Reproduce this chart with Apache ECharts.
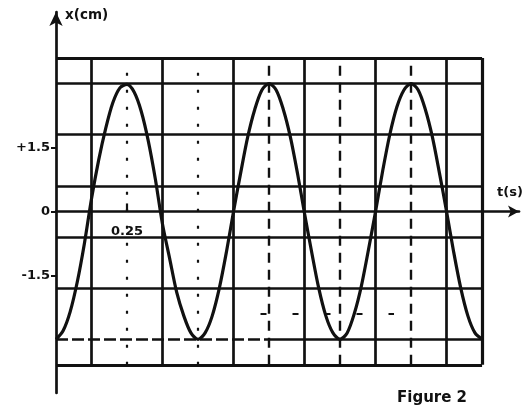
<!DOCTYPE html>
<html>
<head>
<meta charset="utf-8">
<script src="https://cdn.jsdelivr.net/npm/echarts@6/dist/echarts.min.js"></script>
<style>html,body{margin:0;padding:0;background:#fff;}#c{width:529px;height:408px;}</style>
</head>
<body>
<div id="c"></div>
<script>
// time (s)
const times = [0,0.025,0.05,0.075,0.1,0.125,0.15,0.175,0.2,0.225,0.25,0.275,0.3,0.325,0.35,0.375,0.4,0.425,0.45,0.475,0.5,0.525,0.55,0.575,0.6,0.625,0.65,0.675,0.7,0.725,0.75,0.775,0.8,0.825,0.85,0.875,0.9,0.925,0.95,0.975,1.0,1.025,1.05,1.075,1.1,1.125,1.15,1.175,1.2,1.225,1.25,1.275,1.3,1.325,1.35,1.375,1.4,1.425,1.45,1.475,1.5];
// x (cm)
const positions = [-3.0,-2.8,-2.35,-1.65,-0.75,0.3,1.2,1.95,2.55,2.9,2.98,2.8,2.35,1.65,0.75,-0.3,-1.1,-1.9,-2.45,-2.85,-3.0,-2.85,-2.45,-1.8,-0.95,0.0,0.9,1.75,2.4,2.85,3.0,2.85,2.4,1.75,0.9,-0.05,-0.95,-1.8,-2.45,-2.85,-3.0,-2.85,-2.4,-1.75,-0.9,0.0,0.95,1.8,2.45,2.85,3.0,2.85,2.4,1.75,0.9,0.0,-0.95,-1.8,-2.45,-2.85,-3.0];
// tick labels
const yTickValues = [-1.5, 0, 1.5];
const xTickValues = [0.25];
// paper grid
const gridRows = [3, 1.8, 0.6, -0.6, -1.8];
const boxRows = [3.6, -3.6];
const solidCols = [0.125, 0.375, 0.625, 0.875, 1.125, 1.375, 1.5];
const dottedCols = [0.25, 0.5];
const dashedCols = [0.75, 1.0, 1.25];
const tEnd = 1.5;
const boxTop = 3.6, boxBottom = -3.6;
const yMin = -4.26, yMax = 4.68;

const font = 'DejaVu Sans';
const ink = '#111';

const ml = [];
function hLine(v, x0, x1, w, type) {
  ml.push([{coord:[x0, v], lineStyle:{color:ink, width:w, type:type}}, {coord:[x1, v]}]);
}
function vLine(t, w, type) {
  ml.push([{coord:[t, boxBottom], lineStyle:{color:ink, width:w, type:type}}, {coord:[t, boxTop]}]);
}
gridRows.forEach(v => hLine(v, 0, tEnd, 2.7, 'solid'));
hLine(-3, 0, 0.75, 2.7, [12, 4]);
hLine(-3, 0.75, tEnd, 2.7, 'solid');
hLine(-2.4, 0.72, 1.19, 2.2, [6, 26]);
boxRows.forEach(v => hLine(v, 0, tEnd, 3.2, 'solid'));
solidCols.forEach(t => vLine(t, t === tEnd ? 3.2 : 2.7, 'solid'));
dottedCols.forEach(t => vLine(t, 2.2, [3, 14]));
dashedCols.forEach(t => vLine(t, 2.4, [10, 7]));

const gridTop = 12, gridBottom = 15, chartH = 408;
const plotH = chartH - gridTop - gridBottom;
// shift x-axis from the bottom of the grid up to the zero line
const zeroOffset = -plotH * (0 - yMin) / (yMax - yMin);

const chart = echarts.init(document.getElementById('c'), null, {renderer:'canvas'});
chart.setOption({
  animation: false,
  backgroundColor: '#fff',
  title: {
    text: 'Figure 2', left: 392, top: 386,
    textStyle: {fontFamily: font, fontWeight: 'bold', fontSize: 15, color: ink}
  },
  grid: {left: 56, right: 10, top: gridTop, bottom: gridBottom, containLabel: false, outerBoundsMode: 'none'},
  xAxis: {
    type: 'value', min: 0, max: 1.63, offset: zeroOffset,
    name: 't(s)', nameLocation: 'end', nameGap: -22,
    nameTextStyle: {fontFamily: font, fontWeight: 'bold', fontSize: 13, color: ink, align: 'left', verticalAlign: 'bottom', padding: [0,0,12,0]},
    axisLine: {onZero: false, lineStyle: {color: ink, width: 2.7}, symbol: ['none', 'arrow'], symbolSize: [9, 11]},
    axisTick: {customValues: xTickValues, inside: true, length: 8, lineStyle: {color: ink, width: 2.2}},
    axisLabel: {customValues: xTickValues, margin: 14, fontFamily: font, fontWeight: 'bold', fontSize: 13, color: ink,
      formatter: v => String(v)},
    splitLine: {show: false}
  },
  yAxis: {
    type: 'value', min: yMin, max: yMax,
    name: 'x(cm)', nameLocation: 'end', nameGap: -3,
    nameTextStyle: {fontFamily: font, fontWeight: 'bold', fontSize: 13.5, color: ink, align: 'left', verticalAlign: 'middle', padding: [0,0,0,9]},
    axisLine: {show: true, onZero: false, lineStyle: {color: ink, width: 2.7}, symbol: ['none', 'arrow'], symbolSize: [10, 14]},
    axisTick: {customValues: yTickValues, length: 5, lineStyle: {color: ink, width: 2}},
    axisLabel: {customValues: yTickValues, margin: 6, fontFamily: font, fontWeight: 'bold', fontSize: 13, color: ink,
      formatter: v => (v > 0 ? '+' + v : String(v))},
    splitLine: {show: false}
  },
  series: [{
    type: 'line',
    data: times.map((t, i) => [t, positions[i]]),
    showSymbol: false,
    smooth: 0.3,
    lineStyle: {color: ink, width: 3.2},
    z: 3,
    markLine: {
      silent: true, symbol: ['none', 'none'], label: {show: false},
      animation: false, data: ml, z: 2
    }
  }]
});
</script>
</body>
</html>
